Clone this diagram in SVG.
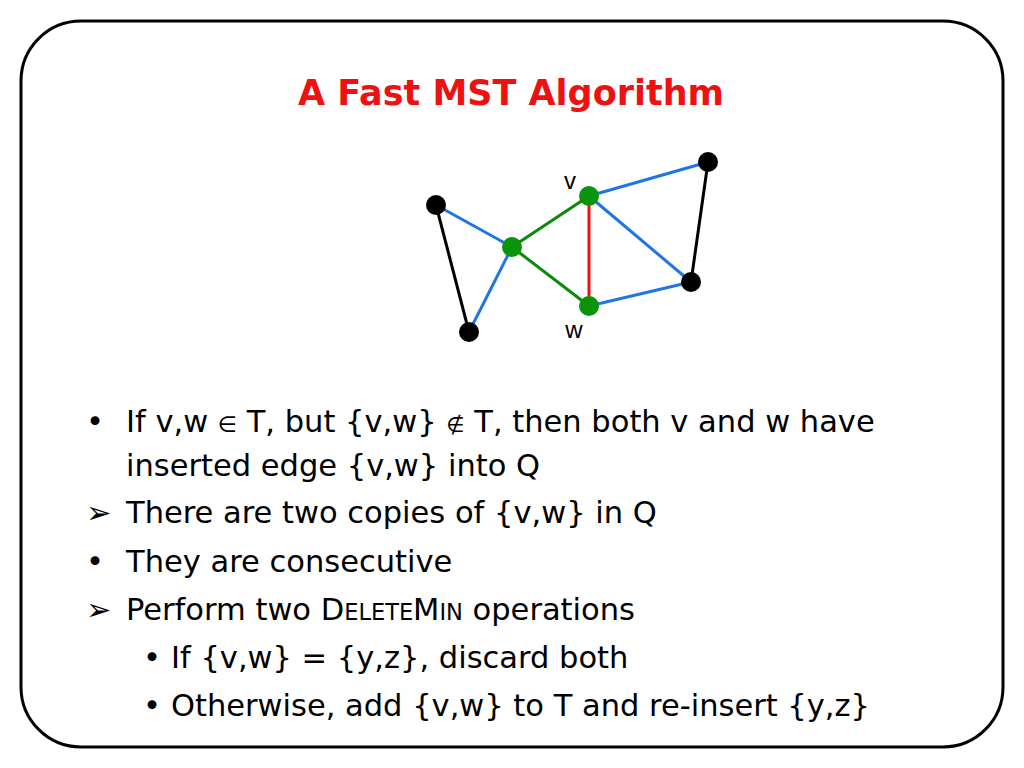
<svg xmlns="http://www.w3.org/2000/svg" width="1024" height="768" viewBox="0 0 1024 768">
<style>
.body{font-family:"DejaVu Sans","Liberation Sans",sans-serif;font-size:30.5px;fill:#000}
.sc{font-size:22.5px}
.lbl{font-family:"Liberation Sans",Arial,sans-serif;font-size:24px;fill:#000}
.e{stroke-width:3;fill:none}
.blue{stroke:#1f75e8}
.black{stroke:#000}
.green{stroke:#0a8a0a}
.red{stroke:#ee1111}
.nb{fill:#000}
.ng{fill:#0a940a}
</style>
<rect x="21" y="21" width="982" height="726" rx="60" ry="60" fill="#fff" stroke="#000" stroke-width="3"/>
<text x="511" y="105" text-anchor="middle" font-family="DejaVu Sans,Verdana,sans-serif" font-weight="bold" font-size="35" fill="#ee1111">A Fast MST Algorithm</text>
<g id="connectors">
<line class="e blue" x1="436" y1="205" x2="512" y2="247"/>
<line class="e black" x1="436" y1="205" x2="469" y2="332"/>
<line class="e blue" x1="469" y1="332" x2="512" y2="247"/>
<line class="e green" x1="512" y1="247" x2="589" y2="196"/>
<line class="e green" x1="512" y1="247" x2="589" y2="306"/>
<line class="e red" x1="589" y1="196" x2="589" y2="306"/>
<line class="e blue" x1="589" y1="196" x2="708" y2="162"/>
<line class="e blue" x1="589" y1="196" x2="691" y2="282"/>
<line class="e blue" x1="589" y1="306" x2="691" y2="282"/>
<line class="e black" x1="708" y1="162" x2="691" y2="282"/>
</g>
<g id="nodeA"><circle class="nb" cx="436" cy="205" r="10"/></g>
<g id="nodeB"><circle class="nb" cx="469" cy="332" r="10"/></g>
<g id="nodeC"><circle class="ng" cx="512" cy="247" r="10"/></g>
<g id="nodeV"><circle class="ng" cx="589" cy="196" r="10"/><text class="lbl" x="570" y="189" text-anchor="middle">v</text></g>
<g id="nodeW"><circle class="ng" cx="589" cy="306" r="10"/><text class="lbl" x="574" y="338" text-anchor="middle">w</text></g>
<g id="nodeD"><circle class="nb" cx="708" cy="162" r="10"/></g>
<g id="nodeE"><circle class="nb" cx="691" cy="282" r="10"/></g>
<g id="text">
<text class="body" x="86" y="432">•</text>
<text class="body" x="126" y="432">If v,w <tspan font-size="22">∈</tspan> T, but {v,w} <tspan font-size="21">∉</tspan> T, then both v and w have</text>
<text class="body" x="126" y="476">inserted edge {v,w} into Q</text>
<text class="body" x="86" y="523">➢</text>
<text class="body" x="126" y="523">There are two copies of {v,w} in Q</text>
<text class="body" x="86" y="572">•</text>
<text class="body" x="126" y="572">They are consecutive</text>
<text class="body" x="86" y="620">➢</text>
<text class="body" x="126" y="620">Perform two D<tspan class="sc">ELETE</tspan>M<tspan class="sc">IN</tspan> operations</text>
<text class="body" x="143" y="668">•</text>
<text class="body" x="171" y="668">If {v,w} = {y,z}, discard both</text>
<text class="body" x="143" y="716">•</text>
<text class="body" x="171" y="716">Otherwise, add {v,w} to T and re-insert {y,z}</text>
</g>
</svg>
